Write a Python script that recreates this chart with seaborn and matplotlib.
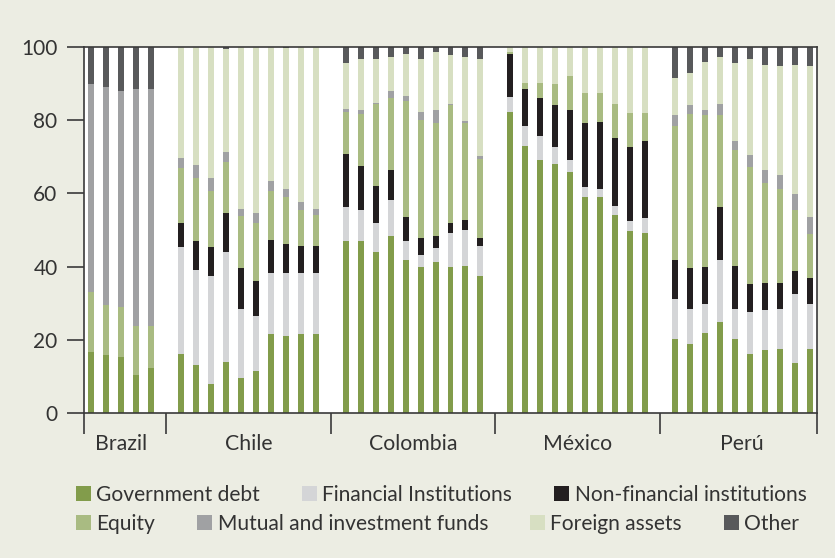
import numpy as np
import pandas as pd
import matplotlib
matplotlib.use("Agg")
import matplotlib.pyplot as plt
import seaborn as sns
from matplotlib.patches import Patch

countries = ["Brazil", "Chile", "Colombia", "México", "Perú"]
bars_per_country = [5, 10, 10, 10, 10]

series_names = ["Government debt", "Financial Institutions", "Non-financial institutions",
                "Equity", "Mutual and investment funds", "Foreign assets", "Other"]
series_colors = ["#829c4b", "#d4d5d7", "#231f20", "#a9bb82", "#a0a1a3", "#d7dfc2", "#58595b"]

gov_debt = [16.7, 15.8, 15.2, 10.4, 12.3,
            16.2, 13.0, 7.8, 13.9, 9.6, 11.4, 21.5, 21.0, 21.5, 21.5,
            47.0, 47.0, 44.0, 48.3, 41.7, 39.9, 41.3, 39.9, 40.3, 37.3,
            82.2, 73.0, 69.0, 68.1, 65.9, 59.0, 59.0, 54.0, 49.6, 49.2,
            20.1, 18.9, 21.9, 25.0, 20.1, 16.2, 17.1, 17.5, 13.7, 17.5]
fin_inst = [0, 0, 0, 0, 0,
            29.1, 26.2, 29.5, 30.1, 18.9, 15.0, 16.8, 17.3, 16.8, 16.8,
            9.3, 8.4, 7.9, 9.8, 5.3, 3.2, 3.9, 9.4, 9.8, 8.3,
            4.1, 5.3, 6.7, 4.6, 3.2, 2.7, 2.2, 2.5, 2.8, 4.1,
            11.0, 9.6, 7.9, 16.7, 8.4, 11.4, 11.0, 11.0, 18.9, 12.4]
nonfin_inst = [0, 0, 0, 0, 0,
               6.6, 7.8, 8.0, 10.6, 11.0, 9.7, 9.1, 7.9, 7.4, 7.4,
               14.6, 12.0, 10.1, 8.2, 6.6, 4.8, 3.1, 2.6, 2.5, 2.3,
               11.9, 10.1, 10.5, 11.4, 13.6, 17.5, 18.4, 18.7, 20.3, 21.0,
               10.6, 11.0, 10.1, 14.5, 11.8, 7.6, 7.4, 7.0, 6.1, 7.0]
equity = [16.3, 13.6, 13.8, 13.4, 11.5,
          15.0, 17.3, 15.4, 14.1, 14.2, 15.9, 13.3, 12.8, 9.8, 8.5,
          11.3, 14.4, 22.5, 19.9, 31.6, 32.2, 30.9, 32.2, 26.6, 21.6,
          0.4, 1.8, 4.0, 5.7, 9.3, 8.3, 7.9, 9.1, 9.2, 7.6,
          36.6, 42.3, 41.5, 25.2, 31.5, 32.0, 27.4, 25.6, 16.9, 12.0]
mutual_funds = [56.9, 59.6, 59.1, 64.6, 64.6,
                2.7, 3.4, 3.4, 2.6, 2.1, 2.6, 2.6, 2.2, 2.1, 1.6,
                0.8, 0.9, 0.2, 1.7, 1.3, 2.1, 3.5, 0.2, 0.5, 0.7,
                0, 0, 0, 0, 0, 0, 0, 0, 0, 0,
                3.0, 2.3, 1.3, 2.9, 2.4, 3.2, 3.4, 3.9, 4.2, 4.7]
foreign_assets = [0, 0, 0, 0, 0,
                  30.4, 32.3, 35.9, 28.1, 44.2, 45.4, 36.7, 38.4, 42.4, 44.2,
                  12.6, 14.1, 12.1, 9.4, 11.7, 14.6, 15.9, 13.4, 17.6, 26.6,
                  1.4, 9.8, 9.8, 10.2, 8.0, 12.5, 12.5, 15.7, 18.1, 18.1,
                  10.2, 8.8, 13.2, 13.0, 21.3, 26.4, 28.9, 29.7, 35.4, 41.1]
other = [10.1, 11.0, 11.9, 11.6, 11.6,
         0, 0, 0, 0.6, 0, 0, 0, 0.4, 0, 0,
         4.4, 3.2, 3.2, 2.7, 1.8, 3.2, 1.4, 2.3, 2.7, 3.2,
         0, 0, 0, 0, 0, 0, 0, 0, 0, 0,
         8.5, 7.1, 4.1, 2.7, 4.5, 3.2, 4.8, 5.3, 4.8, 5.3]

series_values = [gov_debt, fin_inst, nonfin_inst, equity, mutual_funds, foreign_assets, other]

# slot positions: one empty slot between countries
positions, separators, centers = [], [-0.5], []
start = 0
for n in bars_per_country:
    positions += list(range(start, start + n))
    centers.append(start + (n - 1) / 2)
    separators.append(start + n)
    start += n + 1
separators[-1] = positions[-1] + 0.5

stack = np.cumsum(np.array(series_values), axis=0)
df = pd.DataFrame({"pos": positions})
for name, top in zip(series_names, stack):
    df[name] = top

bg = "#ecede3"
text_col = "#333333"
line_col = "#3a3a3a"
plt.rcParams["font.family"] = ["Lato", "DejaVu Sans"]

fig = plt.figure(figsize=(8.35, 5.58), dpi=100, facecolor=bg)
ax = fig.add_axes([84 / 835, 1 - 413 / 558, 733 / 835, 366 / 558])
ax.set_facecolor("white")

# draw cumulative tops from the last series down so each layer covers the one above
for name, col in reversed(list(zip(series_names, series_colors))):
    sns.barplot(data=df, x="pos", y=name, native_scale=True, width=0.4, color=col,
                saturation=1, linewidth=0, errorbar=None, ax=ax)

ax.set_xlim(-0.5, positions[-1] + 0.5)
ax.set_ylim(0, 100)
ax.set_xlabel("")
ax.set_ylabel("")

ax.set_yticks(range(0, 101, 20))
ax.tick_params(axis="y", length=12, width=1.2, color=line_col, labelsize=15,
               labelcolor=text_col, pad=7)
ax.set_xticks(separators)
ax.set_xticklabels([])
ax.set_xticks(centers, minor=True)
ax.set_xticklabels(countries, minor=True)
ax.tick_params(axis="x", which="major", length=15, width=1.2, color=line_col, direction="out")
ax.tick_params(axis="x", which="minor", length=0, labelsize=15.3, labelcolor=text_col, pad=15)

for side in ["left", "right", "top", "bottom"]:
    ax.spines[side].set_color(line_col)
    ax.spines[side].set_linewidth(1.2)

handles = [Patch(facecolor=c, edgecolor="none") for c in series_colors]
leg_kw = dict(loc="center left", frameon=False, prop={"size": 15.1},
              handlelength=0.72, handleheight=0.72, handletextpad=0.25,
              borderpad=0, borderaxespad=0, labelcolor=text_col)
fig.legend(handles[:3], series_names[:3], bbox_to_anchor=(76 / 835, 1 - 495 / 558), ncol=3,
           columnspacing=2.0, **leg_kw)
fig.legend(handles[3:], series_names[3:], bbox_to_anchor=(76 / 835, 1 - 524 / 558), ncol=4,
           columnspacing=2.0, **leg_kw)

fig.savefig("out.png", dpi=100, facecolor=bg)
